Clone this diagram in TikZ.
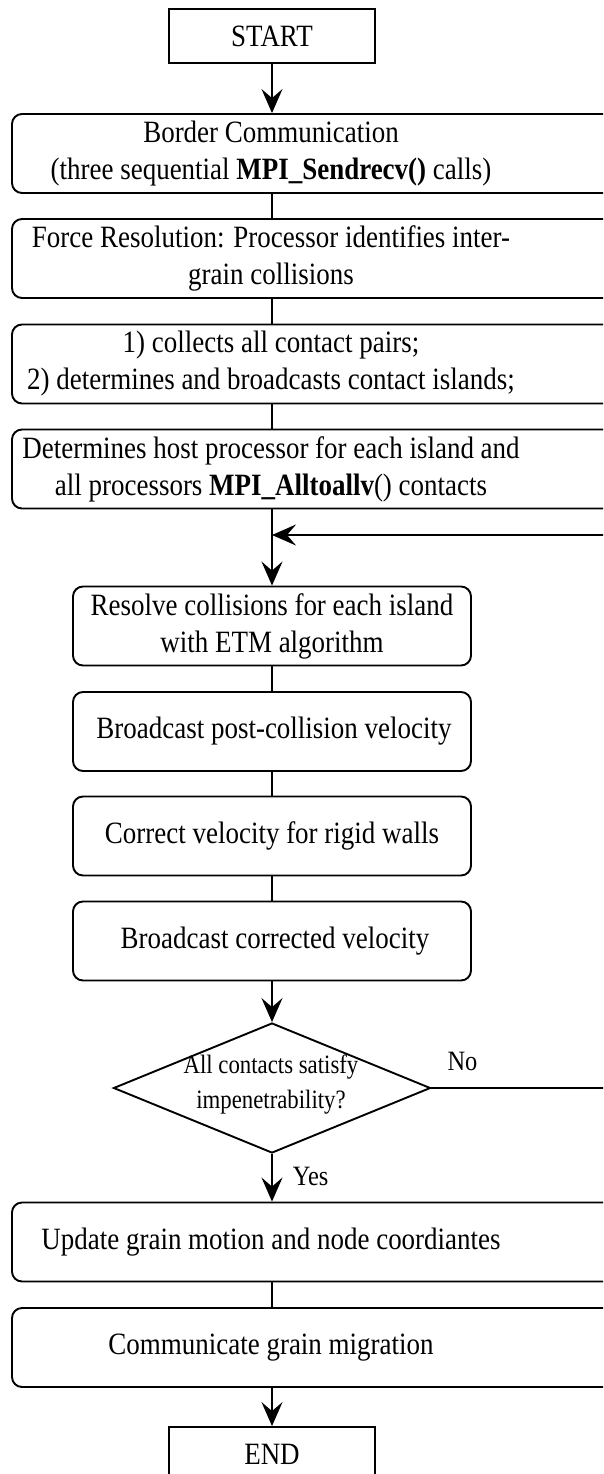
\documentclass[tikz,border=0pt]{standalone}
\usepackage{fontspec}
\setmainfont{Liberation Serif}[FakeStretch=0.87]
\newfontfamily\condfont{Liberation Serif}[FakeStretch=0.86]
\usetikzlibrary{shapes.geometric,arrows.meta}
\begin{document}
\begin{tikzpicture}[x=1pt,y=-1pt,
  flow/.style={line width=1.9pt},
  arr/.style={flow,-{Stealth[length=24pt,width=21pt,inset=9pt]}},
  term/.style={draw,line width=1.9pt,rectangle,minimum width=206pt,minimum height=54pt,
    inner sep=0pt,font=\fontsize{31}{37}\selectfont},
  widebox/.style={draw,line width=1.9pt,rounded corners=10pt,minimum width=628pt,
    minimum height=79pt,inner sep=0pt},
  midbox/.style={draw,line width=1.9pt,rounded corners=10pt,minimum width=398pt,
    minimum height=79pt,inner sep=0pt},
  steptext/.style={align=center,inner sep=0pt,font=\fontsize{31}{37}\selectfont},
  decision/.style={draw,diamond,line width=1.9pt,minimum width=317pt,minimum height=130pt,inner sep=0pt},
  dtext/.style={align=center,inner sep=0pt,font=\condfont\fontsize{26.5}{35}\selectfont},
  branch/.style={inner sep=0pt,font=\fontsize{28}{32}\selectfont}
]
\useasboundingbox (0,0) rectangle (603,1474);
\clip (0,0) rectangle (603,1474);

% main axis of the chart
\coordinate (axis) at (272,0);

% terminals
\node[term] (start) at (272,36) {START};
\node[term] (end) at (272,1454) {END};

% upper stage: communication and contact detection
\node[widebox] (border) at (326,153.5) {};
\node[steptext] (tborder) at (271,153.5) {Border Communication\\(three sequential \textbf{MPI\_Sendrecv()} calls)};
\node[widebox] (force) at (326,258.5) {};
\node[steptext] (tforce) at (271,258.5) {Force Resolution: Processor identifies inter-\\grain collisions};
\node[widebox] (collect) at (326,364) {};
\node[steptext] (tcollect) at (271,364) {1) collects all contact pairs;\\2) determines and broadcasts contact islands;};
\node[widebox] (host) at (326,469) {};
\node[steptext] (thost) at (271,469) {Determines host processor for each island and\\all processors \textbf{MPI\_Alltoallv}() contacts};

% iteration loop
\coordinate (join) at (272,535);
\node[midbox] (resolve) at (272,626) {};
\node[steptext] (tresolve) at (272,626) {Resolve collisions for each island\\with ETM algorithm};
\node[midbox] (bpost) at (272,731.5) {};
\node[steptext] (tbpost) at (274,731.5) {Broadcast post-collision velocity};
\node[midbox] (walls) at (272,836) {};
\node[steptext] (twalls) at (272,836) {Correct velocity for rigid walls};
\node[midbox] (bcorr) at (272,941) {};
\node[steptext] (tbcorr) at (275,941) {Broadcast corrected velocity};
\node[decision] (check) at (272,1088) {};
\node[dtext] (tcheck) at (271,1085) {All contacts satisfy\\impenetrability?};

% lower stage: update and migration
\node[widebox] (update) at (326,1242) {};
\node[steptext] (tupdate) at (271,1242) {Update grain motion and node coordiantes};
\node[widebox] (migrate) at (326,1347.5) {};
\node[steptext] (tmigrate) at (271,1347.5) {Communicate grain migration};

% connectors
\draw[arr] (start.south) -- (border.north -| axis);
\draw[flow] (border.south -| axis) -- (force.north -| axis);
\draw[flow] (force.south -| axis) -- (collect.north -| axis);
\draw[flow] (collect.south -| axis) -- (host.north -| axis);
\draw[arr] (host.south -| axis) -- (resolve.north);
\draw[flow] (resolve.south) -- (bpost.north);
\draw[flow] (bpost.south) -- (walls.north);
\draw[flow] (walls.south) -- (bcorr.north);
\draw[arr] (bcorr.south) -- (check.north);
\draw[arr] (check.south) -- node[branch,right=20pt,pos=0.47] (yes) {Yes} (update.north -| axis);
\draw[flow] (update.south -| axis) -- (migrate.north -| axis);
\draw[arr] (migrate.south -| axis) -- (end.north);

% "No" branch returns to the top of the loop
\coordinate (loopcorner) at (625,1088);
\draw[flow] (check.east) -- node[branch,above=16pt,pos=0.16] (no) {No} (loopcorner);
\draw[arr] (loopcorner) -- (loopcorner |- join) -- (join);
\end{tikzpicture}
\end{document}
